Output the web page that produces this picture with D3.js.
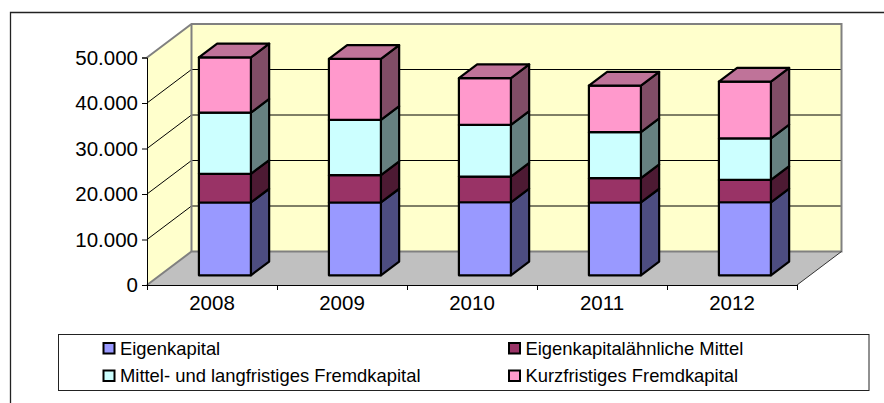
<!DOCTYPE html>
<html>
<head>
<meta charset="utf-8">
<script src="https://cdn.jsdelivr.net/npm/d3@7"></script>
<style>
    body { margin: 0; background: #fff; }
    text { font-family: "Liberation Sans", Arial, sans-serif; fill: #000; }
    svg { display: block; }
</style>
</head>
<body>
<div id="chart"></div>
<script>
// values
const years = ["2008", "2009", "2010", "2011", "2012"];
const eigenkapital = [16000, 16000, 16050, 16000, 16050];
const eigenkapitalaehnlich = [6300, 6000, 5650, 5350, 4900];
const mittelLangfristig = [13450, 12150, 11350, 10100, 9150];
const kurzfristig = [12150, 13400, 10270, 10250, 12450];
const yTicks = [0, 10000, 20000, 30000, 40000, 50000];

const seriesNames = ["Eigenkapital", "Eigenkapitalähnliche Mittel", "Mittel- und langfristiges Fremdkapital", "Kurzfristiges Fremdkapital"];
const seriesValues = [eigenkapital, eigenkapitalaehnlich, mittelLangfristig, kurzfristig];
const frontColors = ["#9999FF", "#993366", "#CCFFFF", "#FF99CC"];
const sideColors = ["#4D4D80", "#4D1A33", "#668080", "#804D66"];
const topColor = "#BF7399";

const width = 884, height = 403;

const svg = d3.select("#chart").append("svg")
    .attr("width", width)
    .attr("height", height);

// outer frame, only top and left are visible
svg.append("path")
    .attr("d", "M884,12.5H10.5V403")
    .attr("fill", "none")
    .attr("stroke", "#222")
    .attr("stroke-width", 1.3);

// scales
const y = d3.scaleLinear().domain([0, 50000]).range([285, 57.5]);
const x = d3.scaleBand().domain(years).range([147, 797]).paddingInner(0.6).paddingOuter(0.3);
// depth axis of the fake 3d box, 0 = front and 1 = back wall
const depthX = d3.scaleLinear().domain([0, 1]).range([0, 44.5]);
const depthY = d3.scaleLinear().domain([0, 1]).range([0, -33.5]);

const line = d3.line();
const poly = pts => line(pts) + "Z";
const pt = (px, value, z) => [px + depthX(z), y(value) + depthY(z)];

const x0 = 147, x1 = 797;

// walls and floor
svg.append("path")
    .attr("d", poly([pt(x0, 0, 1), pt(x1, 0, 1), pt(x1, 50000, 1), pt(x0, 50000, 1)]))
    .attr("fill", "#FFFFCC");
svg.append("path")
    .attr("d", poly([pt(x0, 0, 0), pt(x0, 0, 1), pt(x0, 50000, 1), pt(x0, 50000, 0)]))
    .attr("fill", "#FFFFCC");
svg.append("path")
    .attr("d", poly([pt(x0, 0, 0), pt(x1, 0, 0), pt(x1, 0, 1), pt(x0, 0, 1)]))
    .attr("fill", "#C0C0C0");

// gridlines along side wall and back wall
svg.selectAll(".grid")
    .data(yTicks.slice(1, -1))
    .enter().append("path")
    .attr("class", "grid")
    .attr("d", d => line([pt(x0, d, 0), pt(x0, d, 1), pt(x1, d, 1)]))
    .attr("fill", "none")
    .attr("stroke", "#000")
    .attr("stroke-width", 1);

// grey wall borders
svg.append("path")
    .attr("d", line([pt(x0, 0, 0), pt(x0, 0, 1), pt(x1, 0, 1), pt(x1, 50000, 1), pt(x0, 50000, 1), pt(x0, 50000, 0)]))
    .attr("fill", "none")
    .attr("stroke", "#808080")
    .attr("stroke-width", 2);
svg.append("path")
    .attr("d", line([pt(x0, 0, 1), pt(x0, 50000, 1)]))
    .attr("stroke", "#808080")
    .attr("stroke-width", 2);
svg.append("path")
    .attr("d", line([pt(x1, 0, 0), pt(x1, 0, 1)]))
    .attr("stroke", "#333")
    .attr("stroke-width", 1);

// stacked columns
const zFront = 0.29, zBack = 0.7;
const stroke = { stroke: "#000", width: 2.2 };

years.forEach(function(year, i) {
    const g = svg.append("g").attr("class", "column");
    const left = x(year), right = x(year) + x.bandwidth();
    let base = 0;

    seriesValues.forEach(function(series, s) {
        const top = base + series[i];
        g.append("path")
            .attr("d", poly([pt(right, base, zFront), pt(right, base, zBack), pt(right, top, zBack), pt(right, top, zFront)]))
            .attr("fill", sideColors[s]);
        g.append("path")
            .attr("d", poly([pt(left, base, zFront), pt(right, base, zFront), pt(right, top, zFront), pt(left, top, zFront)]))
            .attr("fill", frontColors[s]);
        base = top;
    });

    g.append("path")
        .attr("d", poly([pt(left, base, zFront), pt(right, base, zFront), pt(right, base, zBack), pt(left, base, zBack)]))
        .attr("fill", topColor);

    g.selectAll("path")
        .attr("stroke", stroke.stroke)
        .attr("stroke-width", stroke.width)
        .attr("stroke-linejoin", "round");
});

// axes
const de = d3.formatLocale({ decimal: ",", thousands: ".", grouping: [3], currency: ["", " €"] });

const yAxis = d3.axisLeft(y)
    .tickValues(yTicks)
    .tickSize(5)
    .tickSizeOuter(5)
    .tickPadding(4)
    .tickFormat(de.format(",d"));
const yAxisG = svg.append("g")
    .attr("transform", "translate(" + x0 + ",0)")
    .call(yAxis);
yAxisG.selectAll("text").style("font-size", "20.5px").style("font-family", null);
yAxisG.selectAll("line, path").attr("stroke", "#000");

// ticks sit between the categories, so two axes: one for ticks, one for labels
const edges = d3.scaleLinear().domain([0, years.length]).range([x0, x1]);
const xTicksG = svg.append("g")
    .attr("transform", "translate(0," + y(0) + ")")
    .call(d3.axisBottom(edges).tickValues(d3.range(years.length + 1)).tickSize(5).tickSizeOuter(5).tickFormat(""));
xTicksG.selectAll("line, path").attr("stroke", "#000");

const xLabels = d3.scaleBand().domain(years).range([x0, x1]);
const xLabelsG = svg.append("g")
    .attr("transform", "translate(0," + y(0) + ")")
    .call(d3.axisBottom(xLabels).tickSize(0).tickPadding(10));
xLabelsG.select(".domain").remove();
xLabelsG.selectAll("text").style("font-size", "20.5px").style("font-family", null);

// legend
const legend = svg.append("g").attr("class", "legend");
legend.append("rect")
    .attr("x", 58.5).attr("y", 334.5)
    .attr("width", 810.5).attr("height", 56)
    .attr("fill", "#fff")
    .attr("stroke", "#222")
    .attr("stroke-width", 1);

const legendCol = [103.5, 509];
const legendRow = [343, 370.5];
seriesNames.forEach(function(name, i) {
    const lx = legendCol[i % 2], ly = legendRow[Math.floor(i / 2)];
    legend.append("rect")
        .attr("x", lx).attr("y", ly)
        .attr("width", 11).attr("height", 10.5)
        .attr("fill", frontColors[i])
        .attr("stroke", "#000")
        .attr("stroke-width", 2);
    legend.append("text")
        .attr("x", lx + 16.5)
        .attr("y", ly + 11.5)
        .style("font-size", "18.4px")
        .text(name);
});
</script>
</body>
</html>
